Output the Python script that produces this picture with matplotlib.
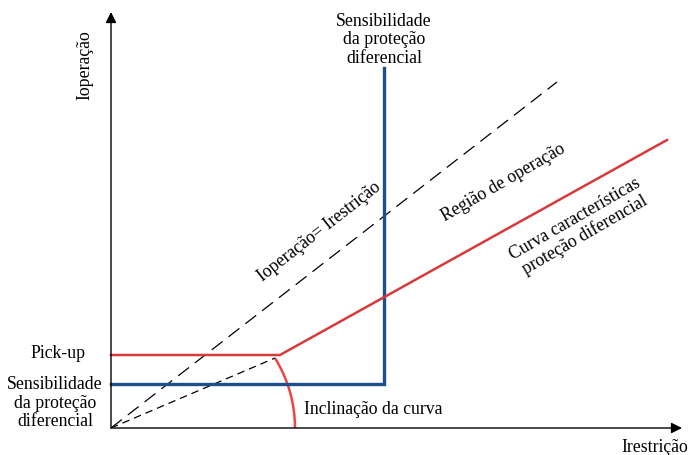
import matplotlib.pyplot as plt
from matplotlib.patches import Arc

plt.rcParams['font.family'] = ['Liberation Serif', 'DejaVu Serif']

# characteristic points (x = I restricao, y = I operacao), arbitrary units
red_x = [0, 169, 556]
red_y = [73, 73, 288]
blue_x = [0, 273, 273]
blue_y = [44, 44, 360]
diag_x = [0, 446]
diag_y = [0, 346]
slope_x = [0, 164]
slope_y = [0, 70]

RED = '#d8393b'
BLUE = '#1d4f8b'
FS = 12.8

fig = plt.figure(figsize=(6.89, 4.55), dpi=100)
ax = fig.add_axes([0, 0, 1, 1])
ax.set_xlim(-111, 578)
ax.set_ylim(-27, 428)
ax.axis('off')

# axes with arrows
arr = dict(arrowstyle='-|>', lw=1, color='black', mutation_scale=16, shrinkA=0, shrinkB=0)
ax.annotate('', xy=(0, 416), xytext=(0, 0), arrowprops=arr)
ax.annotate('', xy=(571, 0), xytext=(0, 0), arrowprops=arr)

ax.plot(diag_x, diag_y, color='black', lw=0.9, dashes=(11, 6))
ax.plot(slope_x, slope_y, color='black', lw=0.9, dashes=(6, 4))
ax.plot(blue_x, blue_y, color=BLUE, lw=2.4, solid_joinstyle='miter')
ax.plot(red_x, red_y, color=RED, lw=1.8)

# slope indicator arc
ax.add_patch(Arc((52, 0), 264, 264, theta1=0, theta2=32, color='#ee4444', lw=1.8))

ax.text(273, 388, 'Sensibilidade\nda proteção\ndiferencial', ha='center', va='center',
        fontsize=FS, linespacing=1.1)
ax.text(-53, 74, 'Pick-up', ha='center', va='center', fontsize=FS)
ax.text(-56, 25, 'Sensibilidade\nda proteção\ndiferencial', ha='center', va='center',
        fontsize=FS, linespacing=1.1)
ax.text(193, 19, 'Inclinação da curva', ha='left', va='center', fontsize=FS)
ax.text(-26, 363, 'Ioperação', ha='center', va='center', rotation=90, fontsize=FS)
ax.text(544, -20, 'Irestrição', ha='center', va='center', fontsize=FS)
ax.text(208, 196, 'Ioperação= Irestrição', ha='center', va='center', rotation=38,
        rotation_mode='anchor', fontsize=FS)
ax.text(392, 245, 'Região de operação', ha='center', va='center', rotation=30,
        rotation_mode='anchor', fontsize=FS)
ax.text(469, 201, 'Curva características\nproteção diferencial', ha='center', va='center',
        rotation=30, rotation_mode='anchor', fontsize=FS, linespacing=1.1)

fig.savefig('out.png', dpi=100)
